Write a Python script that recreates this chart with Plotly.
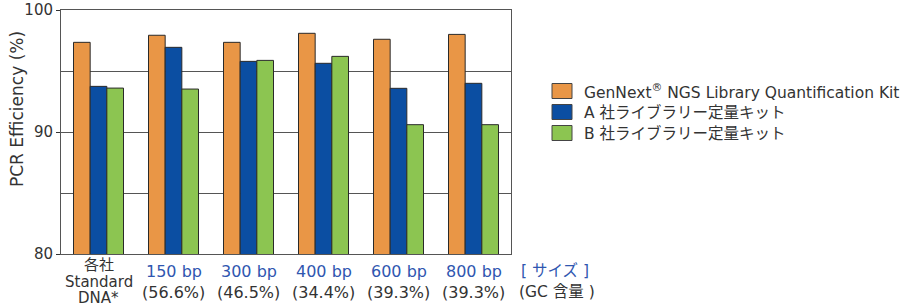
import plotly.graph_objects as go

# ---- data ----
size_labels = ["150 bp", "300 bp", "400 bp", "600 bp", "800 bp"]
gc_labels = ["(56.6%)", "(46.5%)", "(34.4%)", "(39.3%)", "(39.3%)"]
standard_label = ["各社", "Standard", "DNA*"]
categories = ["Standard DNA"] + size_labels

series_names = [
    "GenNext<sup>®</sup> NGS Library Quantification Kit",
    "A 社ライブラリー定量キット",
    "B 社ライブラリー定量キット",
]
genext_values = [97.35, 97.93, 97.35, 98.09, 97.60, 98.00]
a_values = [93.74, 96.94, 95.79, 95.63, 93.58, 93.99]
b_values = [93.60, 93.52, 95.87, 96.20, 90.60, 90.60]
series_values = [genext_values, a_values, b_values]
colors = ["#E99646", "#0B4EA2", "#8CC551"]

y_title = "PCR Efficiency (%)"
size_axis_label = "[ サイズ ]"
gc_axis_label = "(GC 含量 )"

FONT = "DejaVu Sans, Noto Sans CJK JP, sans-serif"
TXT = "#333333"
BLUE_TXT = "#2F56B0"

W, H = 903, 307
PX0, PX1, PY0, PY1 = 61, 511, 10, 254
L, R, T, B = PX0, W - PX1, PY0, H - PY1
PW, PH = PX1 - PX0, PY1 - PY0


def px(xp):
    return (xp - PX0) / PW


def py(yp):
    return (PY1 - yp) / PH


fig = go.Figure()
for name, vals, col in zip(series_names, series_values, colors):
    fig.add_trace(go.Bar(
        x=list(range(len(categories))), y=vals, name=name,
        marker=dict(color=col, line=dict(color="#2a2a2a", width=1)),
        showlegend=False,
    ))

annotations = []
shapes = []
# x tick labels
for i, line in enumerate(standard_label):
    annotations.append(dict(x=0, y=py(265 + 16.5 * i), xref="x", yref="paper", text=line,
                            showarrow=False, xanchor="center", yanchor="middle",
                            font=dict(size=15, color=TXT, family=FONT)))
for i, (s, g) in enumerate(zip(size_labels, gc_labels), start=1):
    annotations.append(dict(x=i, y=py(271), xref="x", yref="paper", text=s,
                            showarrow=False, xanchor="center", yanchor="middle",
                            font=dict(size=16, color=BLUE_TXT, family=FONT)))
    annotations.append(dict(x=i, y=py(292), xref="x", yref="paper", text=g,
                            showarrow=False, xanchor="center", yanchor="middle",
                            font=dict(size=16, color=TXT, family=FONT)))
# axis caption right of plot
annotations.append(dict(x=px(555), y=py(271), xref="paper", yref="paper",
                        text=size_axis_label, showarrow=False,
                        xanchor="center", yanchor="middle",
                        font=dict(size=15.5, color=BLUE_TXT, family=FONT)))
annotations.append(dict(x=px(557), y=py(292), xref="paper", yref="paper",
                        text=gc_axis_label, showarrow=False,
                        xanchor="center", yanchor="middle",
                        font=dict(size=15.5, color=TXT, family=FONT)))
# y title
annotations.append(dict(x=px(17), y=py(109), xref="paper", yref="paper",
                        text=y_title, textangle=-90, showarrow=False,
                        xanchor="center", yanchor="middle",
                        font=dict(size=17, color=TXT, family=FONT)))
# custom legend
leg_y = [91, 112, 133]
for name, col, yy in zip(series_names, colors, leg_y):
    shapes.append(dict(type="rect", xref="paper", yref="paper",
                       x0=px(552), x1=px(572), y0=py(yy + 7.5), y1=py(yy - 7.5),
                       fillcolor=col, line=dict(color="#444444", width=1)))
    annotations.append(dict(x=px(582), y=py(yy),
                            xref="paper", yref="paper", text=name,
                            showarrow=False, xanchor="left", yanchor="middle",
                            font=dict(size=15.5, color=TXT, family=FONT)))

fig.update_layout(
    width=W, height=H, autosize=False,
    margin=dict(l=L, r=R, t=T, b=B, pad=0, autoexpand=False),
    paper_bgcolor="white", plot_bgcolor="white",
    barmode="group", bargap=1 / 3, bargroupgap=0,
    font=dict(family=FONT, color=TXT),
    annotations=annotations, shapes=shapes,
    xaxis=dict(range=[-0.5, len(categories) - 0.5], showticklabels=False,
               showgrid=False, zeroline=False, showline=True, mirror=True,
               linecolor="#555555", linewidth=1, ticks="", automargin=False),
    yaxis=dict(range=[80, 100], tickvals=[80, 90, 100],
               ticks="outside", ticklen=4, tickcolor="#333333",
               tickfont=dict(size=15, color=TXT, family=FONT),
               showgrid=True, gridcolor="#555555", gridwidth=1,
               minor=dict(dtick=5, showgrid=True, gridcolor="#555555", gridwidth=1, ticks=""),
               zeroline=False, showline=True, mirror=True, automargin=False,
               linecolor="#555555", linewidth=1),
)

fig.write_html("out.html",
               config={"displayModeBar": False},
               post_script="document.body.style.margin='0';document.body.style.overflow='hidden';")
